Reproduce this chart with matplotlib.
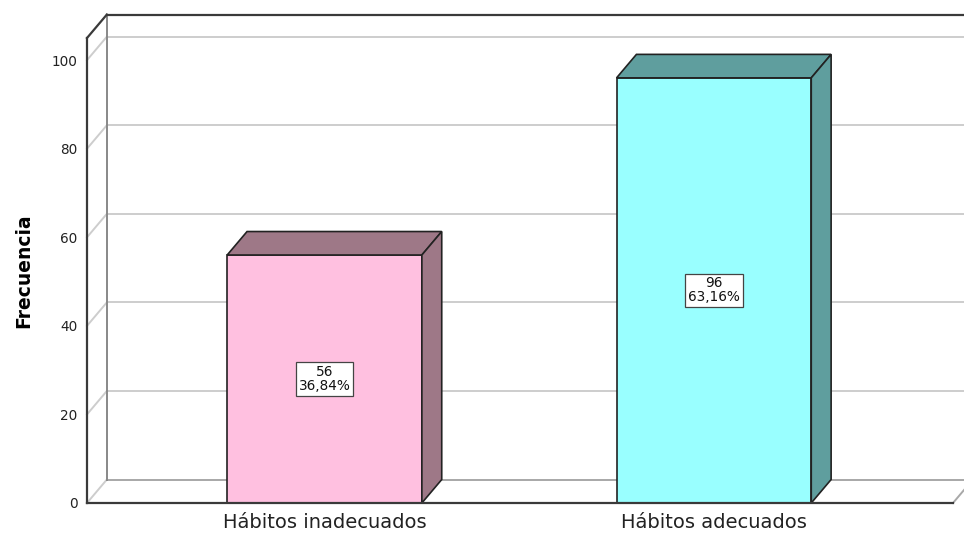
import matplotlib.pyplot as plt
from matplotlib.patches import Rectangle, Polygon

categorias = ["Hábitos inadecuados", "Hábitos adecuados"]
frecuencias = [56, 96]
colores_frente = ["#FFC0E0", "#99FFFF"]
colores_lado = ["#9E7887", "#5F9E9E"]
yticks = [0, 20, 40, 60, 80, 100]

total = sum(frecuencias)
porcentajes = [f / total * 100 for f in frecuencias]

# profundidad del efecto 3D (en unidades de datos)
dx = 0.051
dy = 5.3
ancho = 0.5
ymax = 105
x_izq, x_der = -0.61, 1.614

fig = plt.figure(figsize=(9.64, 5.33), dpi=100)
ax = fig.add_axes([87 / 964, 30 / 533, 866 / 964, 465 / 533])
ax.set_xlim(x_izq, x_der)
ax.set_ylim(0, ymax)

gris = "#CDCDCD"
oscuro = "#3A3A3A"

# pared del fondo: lineas de la cuadricula y diagonales de la pared izquierda
for v in yticks[1:]:
    ax.plot([x_izq + dx, 2.0], [v + dy, v + dy], color=gris, lw=1.4, clip_on=False, zorder=1)
    ax.plot([x_izq, x_izq + dx], [v, v + dy], color=gris, lw=1.4, clip_on=False, zorder=1)
ax.plot([x_izq + dx, 2.0], [dy, dy], color="#A8A8A8", lw=1.4, clip_on=False, zorder=1)
ax.plot([x_izq, x_izq + dx], [0, dy], color=gris, lw=1.4, clip_on=False, zorder=1)
ax.plot([x_der, x_der + dx], [0, dy], color="#A8A8A8", lw=1.4, clip_on=False, zorder=1)
ax.plot([x_izq + dx, x_izq + dx], [dy, ymax + dy], color="#888888", lw=1.4, clip_on=False, zorder=1)
ax.plot([x_izq + dx, 2.0], [ymax + dy, ymax + dy], color=oscuro, lw=1.6, clip_on=False, zorder=1)
ax.plot([x_izq, x_izq + dx], [ymax, ymax + dy], color=oscuro, lw=1.6, clip_on=False, zorder=1)

# barras 3D
for i, (f, p) in enumerate(zip(frecuencias, porcentajes)):
    x0, x1 = i - ancho / 2, i + ancho / 2
    ax.add_patch(Rectangle((x0, 0), ancho, f, facecolor=colores_frente[i],
                           edgecolor="#222222", lw=1.2, zorder=3))
    ax.add_patch(Polygon([(x0, f), (x1, f), (x1 + dx, f + dy), (x0 + dx, f + dy)],
                         closed=True, facecolor=colores_lado[i], edgecolor="#222222",
                         lw=1.2, zorder=3, clip_on=False))
    ax.add_patch(Polygon([(x1, 0), (x1 + dx, dy), (x1 + dx, f + dy), (x1, f)],
                         closed=True, facecolor=colores_lado[i], edgecolor="#222222",
                         lw=1.2, zorder=3, clip_on=False))
    etiqueta = f"{f}\n{p:.2f}%".replace(".", ",")
    ax.text(i, f / 2, etiqueta, ha="center", va="center", fontsize=9.8,
            linespacing=1.0, zorder=5, color="#111111",
            bbox=dict(boxstyle="square,pad=0.2", facecolor="white",
                      edgecolor="#444444", lw=0.9))

for s in ["top", "right"]:
    ax.spines[s].set_visible(False)
for s in ["left", "bottom"]:
    ax.spines[s].set_color(oscuro)
    ax.spines[s].set_linewidth(1.6)
    ax.spines[s].set_zorder(4)

ax.set_yticks(yticks)
ax.set_xticks(range(len(categorias)))
ax.set_xticklabels(categorias, fontsize=14, color="#222222")
ax.tick_params(axis="y", length=0, pad=7, labelsize=9.8, labelcolor="#222222")
ax.tick_params(axis="x", length=0, pad=7)
ax.set_ylabel("Frecuencia", fontsize=13.5, fontweight="bold")
ax.yaxis.set_label_coords(-0.062, 0.5)

fig.savefig("out.png", dpi=100)
